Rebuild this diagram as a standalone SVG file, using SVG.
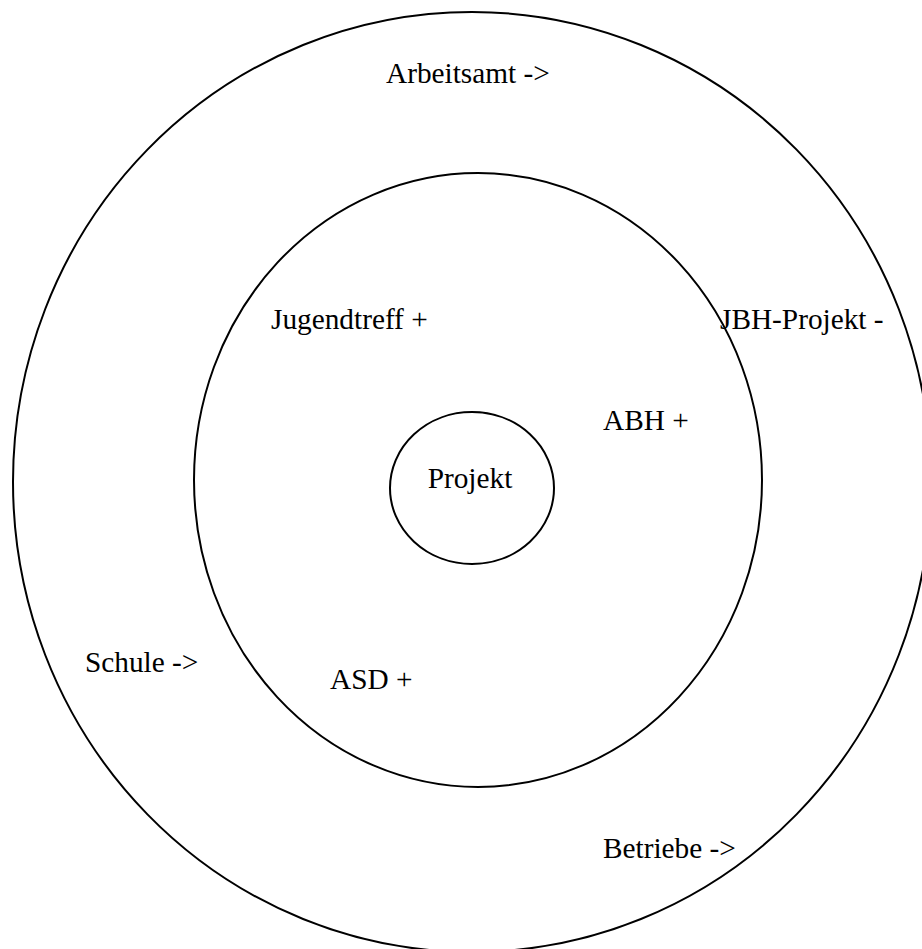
<svg xmlns="http://www.w3.org/2000/svg" width="922" height="949" viewBox="0 0 922 949">
<style>
.ring{fill:none;stroke:#000;stroke-width:2}
text{font-family:'Liberation Serif','Times New Roman',Times,'DejaVu Serif',serif;font-size:29.3px;fill:#000}
</style>
<rect width="922" height="949" fill="#fff"/>
<g id="outer"><ellipse class="ring" cx="472" cy="482" rx="459" ry="470"/></g>
<g id="inner"><ellipse class="ring" cx="478" cy="480" rx="284" ry="307"/></g>
<g id="projekt"><ellipse class="ring" cx="472" cy="488" rx="82" ry="76"/>
<text font-family="Liberation Serif, serif" x="470" y="488" text-anchor="middle">Projekt</text></g>
<g id="arbeitsamt"><text font-family="Liberation Serif, serif" x="386" y="83">Arbeitsamt -&gt;</text></g>
<g id="jugendtreff"><text font-family="Liberation Serif, serif" x="271" y="329">Jugendtreff +</text></g>
<g id="jbh"><text font-family="Liberation Serif, serif" x="720" y="329">JBH-Projekt -</text></g>
<g id="abh"><text font-family="Liberation Serif, serif" x="603" y="430">ABH +</text></g>
<g id="schule"><text font-family="Liberation Serif, serif" x="85" y="672">Schule -&gt;</text></g>
<g id="asd"><text font-family="Liberation Serif, serif" x="330" y="689">ASD +</text></g>
<g id="betriebe"><text font-family="Liberation Serif, serif" x="603" y="858">Betriebe -&gt;</text></g>
<g id="connectors"></g>
</svg>
